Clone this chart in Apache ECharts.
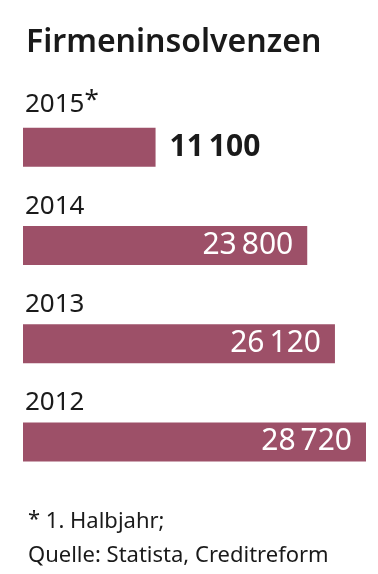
<!doctype html>
<html>
<head>
<meta charset="utf-8">
<title>Firmeninsolvenzen</title>
<script src="https://cdn.jsdelivr.net/npm/echarts@6/dist/echarts.min.js"></script>
<style>
html, body { margin: 0; padding: 0; background: #fff; }
#main { width: 378px; height: 574px; }
</style>
</head>
<body>
<div id="main"></div>
<script>
var years = ['2015', '2014', '2013', '2012'];
var starred = ['2015'];
var values = [11100, 23800, 26120, 28720];
var outside = ['2015'];

var barColor = '#9d5068';
var textColor = '#1a1a1a';
var font = 'Noto Sans';

function fmt(v) {
    // thin space as thousands separator
    return String(v).replace(/\B(?=(\d{3})+(?!\d))/g, '\u2009');
}

var seriesData = values.map(function (v, i) {
    var out = outside.indexOf(years[i]) >= 0;
    return {
        value: v,
        label: out ? {
            position: 'right', distance: 14, color: textColor, fontWeight: 'bold'
        } : {
            position: 'insideRight', distance: 14, color: '#fff'
        }
    };
});

var chart = echarts.init(document.getElementById('main'));
chart.setOption({
    animation: false,
    title: [{
        text: 'Firmeninsolvenzen',
        left: 21, top: 22,
        textStyle: { fontFamily: font, fontSize: 32, fontWeight: 600, color: textColor }
    }, {
        text: '{s|*} 1. Halbjahr;\nQuelle: Statista, Creditreform',
        left: 23, top: 500,
        textStyle: {
            fontFamily: font, fontSize: 22, fontWeight: 'normal', color: textColor, lineHeight: 34,
            rich: { s: { fontFamily: font, fontSize: 22, color: textColor, padding: [0, 0, 4, 0] } }
        }
    }],
    grid: { left: 23, right: 12, top: 98, bottom: 83 },
    xAxis: {
        type: 'value', min: 0, max: 28720,
        show: false
    },
    yAxis: {
        type: 'category', data: years, inverse: true,
        axisLine: { show: false }, axisTick: { show: false },
        axisLabel: {
            inside: true, margin: 2, align: 'left', verticalAlign: 'bottom',
            padding: [0, 0, 26, 0],
            fontFamily: font, fontSize: 26, color: textColor,
            formatter: function (v) {
                return starred.indexOf(v) >= 0 ? v + '{s|*}' : v;
            },
            rich: { s: { fontFamily: font, fontSize: 26, color: textColor, padding: [0, 0, 8, 0] } }
        }
    },
    series: [{
        type: 'bar', data: seriesData, barWidth: 39,
        itemStyle: { color: barColor },
        label: {
            show: true, fontFamily: font, fontSize: 30,
            formatter: function (p) { return fmt(p.value); }
        }
    }]
});
</script>
</body>
</html>
